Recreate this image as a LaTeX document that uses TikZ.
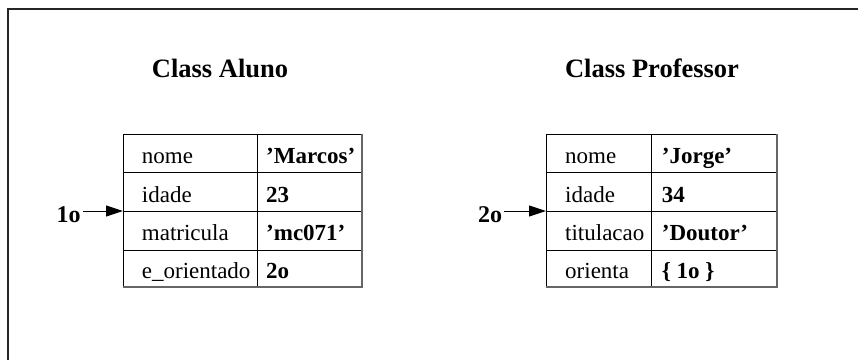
\documentclass[tikz,border=0pt]{standalone}
\usepackage{fontspec}
\setmainfont{Liberation Serif}
\usetikzlibrary{arrows.meta}
\begin{document}
\begin{tikzpicture}[x=1pt,y=-1pt,
  title/.style={font=\fontsize{26.5}{30}\selectfont\bfseries, anchor=base, inner sep=0pt},
  field/.style={font=\fontsize{23}{27}\selectfont, anchor=base west, inner sep=0pt},
  val/.style={font=\fontsize{23}{27}\selectfont\bfseries, anchor=base west, inner sep=0pt},
  objref/.style={font=\fontsize{24}{28}\selectfont\bfseries, anchor=base west, inner sep=0pt},
  rule/.style={line width=1pt, black},
  edge/.style={line width=2pt, black!60},
  ptr/.style={line width=1pt, -{Triangle[length=17pt,width=11pt]}}
]
\useasboundingbox (0,0) rectangle (858,360);

% outer frame (top and left edges)
\draw[line width=1.6pt, black!85] (8,360) -- (8,9) -- (858,9);

% titles
\node[title] (tAluno) at (220,77) {Class Aluno};
\node[title] (tProf)  at (652,77) {Class Professor};

% ---- table: Aluno ----
\draw[rule] (123,134) rectangle (362,287);
\draw[rule] (257,134) -- (257,287);
\foreach \y in {172,211,250} \draw[rule] (123,\y) -- (362,\y);
\draw[edge] (123,287) -- (362,287) -- (362,134);

\node[field] (aNome) at (141.7,163) {nome};
\node[field] (aIdade) at (141.7,202) {idade};
\node[field] (aMat) at (141.7,240) {matricula};
\node[field] (aOri) at (141.7,278) {e\_orientado};
\node[val] (vNome) at (266,163) {'Marcos'};
\node[val] (vIdade) at (266,202) {23};
\node[val] (vMat) at (266,240) {'mc071'};
\node[val] (vOri) at (266,278) {2o};

% ---- table: Professor ----
\draw[rule] (546,134) rectangle (777,287);
\draw[rule] (651,134) -- (651,287);
\foreach \y in {172,211,250} \draw[rule] (546,\y) -- (777,\y);
\draw[edge] (546,287) -- (777,287) -- (777,134);

\node[field] (pNome) at (565,163) {nome};
\node[field] (pIdade) at (565,202) {idade};
\node[field] (pTit) at (565,240) {titulacao};
\node[field] (pOri) at (565,278) {orienta};
\node[val] (wNome) at (661.7,163) {'Jorge'};
\node[val] (wIdade) at (661.7,202) {34};
\node[val] (wTit) at (661.7,240) {'Doutor'};
\node[val] (wOri) at (661.7,278) {\{ 1o \}};

% object references
\node[objref] (r1) at (56.5,222) {1o};
\node[objref] (r2) at (478,222) {2o};
\coordinate (in1) at (123,211);
\coordinate (in2) at (546,211);
\draw[ptr, shorten <=2pt] (r1.east |- in1) -- (in1);
\draw[ptr, shorten <=2pt] (r2.east |- in2) -- (in2);
\end{tikzpicture}
\end{document}
